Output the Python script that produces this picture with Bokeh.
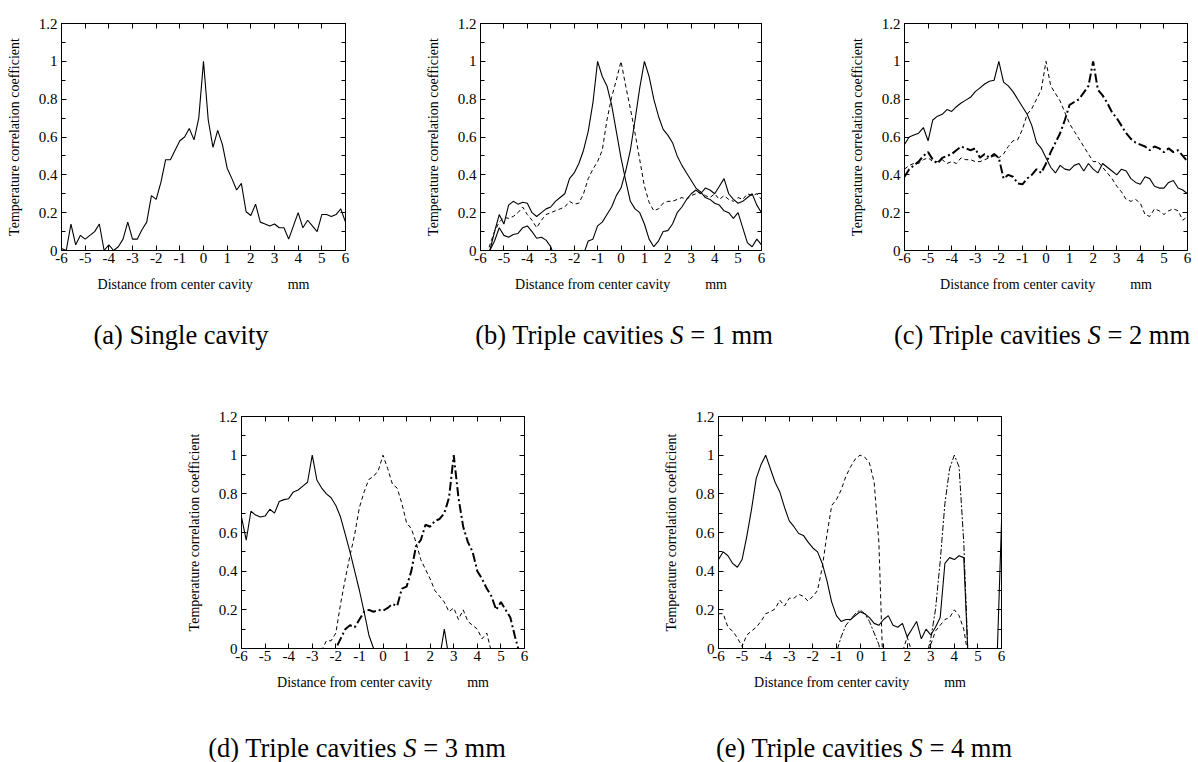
import numpy as np
from bokeh.plotting import figure
from bokeh.models import Range1d, FixedTicker, LinearAxis, Div, Spacer, CustomJSTickFormatter
from bokeh.layouts import row, column
from bokeh.embed import file_html
from bokeh.resources import INLINE

FONT = "Liberation Serif"

# ---------------- data ----------------
x_grid = np.round(np.linspace(-6, 6, 61), 1)   # sampling positions, mm
x_ticks = [-6, -5, -4, -3, -2, -1, 0, 1, 2, 3, 4, 5, 6]
x_tick_labels = {-6: "-6", -5: "-5", -4: "-4", -3: "-3", -2: "-2", -1: "-1", 0: "0",
                 1: "1", 2: "2", 3: "3", 4: "4", 5: "5", 6: "6"}
y_ticks = [0, 0.2, 0.4, 0.6, 0.8, 1, 1.2]
y_minor = [0.1, 0.3, 0.5, 0.7, 0.9, 1.1]
y_tick_labels = {0: "0", 0.2: "0.2", 0.4: "0.4", 0.6: "0.6", 0.8: "0.8", 1: "1", 1.2: "1.2"}

# (a) single cavity
a_single = [0.01, 0.0, 0.14, 0.03, 0.08, 0.06, 0.08, 0.10, 0.14, 0.0,
            0.03, 0.0, 0.02, 0.06, 0.15, 0.06, 0.06, 0.11, 0.15, 0.29,
            0.27, 0.36, 0.48, 0.48, 0.53, 0.58, 0.60, 0.645, 0.585, 0.70,
            1.0,
            0.69, 0.545, 0.635, 0.56, 0.435, 0.38, 0.32, 0.355, 0.205, 0.185,
            0.245, 0.15, 0.14, 0.13, 0.14, 0.12, 0.12, 0.06, 0.13, 0.20,
            0.12, 0.16, 0.13, 0.10, 0.19, 0.19, 0.18, 0.19, 0.22, 0.15]

# (b) S = 1 mm
b_left = [-0.25, -0.12, 0.0, 0.10, 0.19, 0.14, 0.24, 0.26, 0.245, 0.255,
          0.25, 0.20, 0.18, 0.20, 0.22, 0.23, 0.26, 0.28, 0.30, 0.38,
          0.41, 0.46, 0.53, 0.63, 0.78, 1.0, 0.92, 0.87, 0.77, 0.63,
          0.49,
          0.37, 0.26, 0.22, 0.20, 0.14, 0.06, 0.02, 0.05, 0.10, 0.105,
          0.14, 0.20, 0.23, 0.27, 0.30, 0.32, 0.30, 0.33, 0.32, 0.30,
          0.34, 0.38, 0.30, 0.27, 0.25, 0.26, 0.28, 0.30, 0.24, 0.20]
b_center = [-0.20, -0.05, 0.03, 0.10, 0.15, 0.175, 0.17, 0.18, 0.20, 0.23,
            0.19, 0.16, 0.12, 0.16, 0.19, 0.20, 0.21, 0.22, 0.23, 0.26,
            0.245, 0.25, 0.30, 0.38, 0.43, 0.47, 0.53, 0.69, 0.81, 0.90,
            1.0,
            0.87, 0.75, 0.62, 0.48, 0.34, 0.255, 0.21, 0.22, 0.25, 0.26,
            0.26, 0.27, 0.28, 0.27, 0.29, 0.30, 0.31, 0.29, 0.28, 0.30,
            0.27, 0.29, 0.27, 0.26, 0.28, 0.27, 0.30, 0.29, 0.30, 0.27]
b_right = [-0.20, -0.08, 0.0, 0.05, 0.12, 0.08, 0.07, 0.085, 0.09, 0.12,
           0.13, 0.10, 0.065, 0.07, 0.055, 0.02, -0.05, -0.10, -0.12, -0.12,
           -0.10, -0.08, -0.02, 0.05, 0.06, 0.13, 0.15, 0.19, 0.23, 0.29,
           0.33,
           0.42, 0.53, 0.69, 0.86, 1.0, 0.92, 0.80, 0.71, 0.64, 0.61,
           0.57, 0.50, 0.45, 0.41, 0.37, 0.33, 0.31, 0.28, 0.27, 0.25,
           0.24, 0.21, 0.20, 0.17, 0.20, 0.12, 0.04, 0.02, 0.06, 0.03]

# (c) S = 2 mm
c_left = [0.56, 0.60, 0.61, 0.62, 0.65, 0.58, 0.69, 0.71, 0.72, 0.745,
          0.735, 0.76, 0.78, 0.795, 0.81, 0.84, 0.86, 0.88, 0.895, 0.90,
          1.0, 0.89, 0.87, 0.84, 0.80, 0.76, 0.72, 0.66, 0.57, 0.54,
          0.49,
          0.44, 0.41, 0.45, 0.43, 0.425, 0.45, 0.46, 0.42, 0.46, 0.43,
          0.41, 0.46, 0.44, 0.42, 0.40, 0.43, 0.42, 0.38, 0.36, 0.35,
          0.39, 0.38, 0.34, 0.33, 0.33, 0.36, 0.37, 0.33, 0.32, 0.30]
c_center = [0.43, 0.45, 0.46, 0.46, 0.48, 0.49, 0.47, 0.47, 0.48, 0.46,
            0.47, 0.46, 0.49, 0.48, 0.48, 0.47, 0.47, 0.48, 0.49, 0.50,
            0.49, 0.51, 0.55, 0.58, 0.585, 0.64, 0.72, 0.75, 0.80, 0.85,
            1.0,
            0.87, 0.83, 0.79, 0.73, 0.67, 0.63, 0.59, 0.55, 0.51, 0.47,
            0.47, 0.44, 0.41, 0.38, 0.34, 0.31, 0.27, 0.26, 0.27, 0.25,
            0.19, 0.18, 0.22, 0.21, 0.19, 0.21, 0.22, 0.21, 0.16, 0.18]
c_right = [0.39, 0.43, 0.45, 0.47, 0.50, 0.52, 0.48, 0.46, 0.49, 0.50,
           0.51, 0.53, 0.55, 0.54, 0.53, 0.54, 0.49, 0.51, 0.49, 0.51,
           0.49, 0.38, 0.40, 0.39, 0.355, 0.35, 0.38, 0.40, 0.43, 0.41,
           0.46,
           0.52, 0.57, 0.62, 0.69, 0.77, 0.785, 0.80, 0.835, 0.87, 1.0,
           0.85, 0.82, 0.78, 0.73, 0.70, 0.66, 0.62, 0.59, 0.57, 0.56,
           0.55, 0.53, 0.55, 0.54, 0.52, 0.54, 0.52, 0.53, 0.50, 0.47]

# (d) S = 3 mm
d_left = [0.68, 0.56, 0.71, 0.69, 0.68, 0.685, 0.72, 0.70, 0.76, 0.77,
          0.775, 0.81, 0.82, 0.84, 0.86, 1.0, 0.87, 0.83, 0.80, 0.78,
          0.74, 0.68, 0.59, 0.50, 0.40, 0.30, 0.19, 0.07, 0.0, -0.05,
          -0.1,
          -0.1, -0.1, -0.1, -0.1, -0.1, -0.1, -0.1, -0.1, -0.1, -0.1,
          -0.1, -0.05, 0.10, -0.05, -0.1, -0.1, -0.1, -0.1, -0.1, -0.1,
          -0.1, -0.1, -0.1, -0.1, -0.1, -0.1, -0.1, -0.1, -0.1, -0.1]
d_center = [-0.05, -0.05, -0.05, -0.05, -0.05, -0.05, -0.05, -0.05, -0.05, -0.05,
            -0.05, -0.05, -0.05, -0.05, -0.05, -0.05, -0.05, -0.01, 0.04, 0.04,
            0.08, 0.23, 0.36, 0.48, 0.59, 0.73, 0.81, 0.875, 0.89, 0.92,
            1.0,
            0.93, 0.85, 0.83, 0.75, 0.65, 0.62, 0.55, 0.46, 0.41, 0.36,
            0.30, 0.27, 0.24, 0.19, 0.21, 0.15, 0.20, 0.14, 0.12, 0.10,
            0.05, 0.08, -0.02, -0.05, -0.05, -0.05, -0.05, -0.05, -0.05, -0.05]
d_right = [-0.05, -0.05, -0.05, -0.05, -0.05, -0.05, -0.05, -0.05, -0.05, -0.05,
           -0.05, -0.05, -0.05, -0.05, -0.05, -0.05, -0.05, -0.05, -0.05, -0.02,
           0.0, 0.05, 0.10, 0.12, 0.11, 0.15, 0.19, 0.20, 0.19, 0.20,
           0.195,
           0.21, 0.23, 0.22, 0.31, 0.32, 0.40, 0.53, 0.56, 0.64, 0.63,
           0.66, 0.67, 0.70, 0.78, 1.0, 0.78, 0.63, 0.55, 0.50, 0.40,
           0.36, 0.31, 0.27, 0.20, 0.24, 0.20, 0.16, 0.06, -0.03, -0.05]

# (e) S = 4 mm
e_left = [0.46, 0.50, 0.48, 0.44, 0.42, 0.46, 0.58, 0.72, 0.88, 0.95,
          1.0, 0.93, 0.86, 0.81, 0.73, 0.66, 0.63, 0.595, 0.585, 0.55,
          0.52, 0.50, 0.44, 0.35, 0.24, 0.17, 0.14, 0.15, 0.15, 0.17,
          0.19,
          0.18, 0.16, 0.13, 0.12, 0.15, 0.17, 0.12, 0.11, 0.13, 0.06,
          0.10, 0.14, 0.05, 0.10, 0.07, 0.11, 0.16, 0.44, 0.47, 0.46,
          0.48, 0.47, -0.10, -0.10, -0.10, -0.10, -0.10, -0.10, -0.10, 0.65]
e_center = [0.18, 0.18, 0.11, 0.09, 0.055, 0.01, 0.07, 0.09, 0.11, 0.14,
            0.18, 0.19, 0.205, 0.25, 0.22, 0.26, 0.26, 0.28, 0.27, 0.245,
            0.27, 0.30, 0.42, 0.59, 0.74, 0.77, 0.82, 0.89, 0.94, 0.98,
            1.0,
            0.99, 0.96, 0.86, 0.55, -0.2, -0.1, -0.1, -0.1, -0.02, 0.06,
            -0.02, -0.1, -0.1, -0.05, 0.02, 0.09, 0.12, 0.15, 0.16, 0.20,
            0.17, 0.10, -0.05, -0.1, -0.1, -0.1, -0.1, -0.1, -0.1, -0.1]
e_right = [-0.1, -0.1, -0.1, -0.1, -0.1, -0.1, -0.1, -0.1, -0.1, -0.1,
           -0.1, -0.1, -0.1, -0.1, -0.1, -0.1, -0.1, -0.1, -0.1, -0.1,
           -0.1, -0.1, -0.1, -0.1, -0.1, -0.02, 0.06, 0.12, 0.15, 0.18,
           0.20,
           0.18, 0.14, 0.08, 0.02, -0.1, -0.1, -0.1, -0.1, -0.1, -0.1,
           -0.1, -0.1, -0.1, -0.05, 0.05, 0.20, 0.45, 0.75, 0.93, 1.0,
           0.94, 0.55, -0.1, -0.1, -0.1, -0.1, -0.1, -0.1, -0.1, -0.1]

x_label = "Distance from center cavity" + "\u00a0" * 10 + "mm"
y_label = "Temperature correlation coefficient"

SOLID = dict(line_color="black", line_width=1.1)
DASHED = dict(line_color="black", line_width=1.0, line_dash="4 3")
DASHDOT_THICK = dict(line_color="black", line_width=2.0, line_dash="9 3 2 3")
DASHDOT_THIN = dict(line_color="black", line_width=1.0, line_dash="6 2 2 2")


def blank_axis(ax):
    ax.formatter = CustomJSTickFormatter(code="return ''")
    ax.major_label_text_font_size = "0px"
    ax.major_label_standoff = 0
    ax.axis_line_color = "black"
    ax.major_tick_line_color = "black"
    ax.minor_tick_line_color = "black"
    ax.major_tick_in = 5
    ax.major_tick_out = 0
    ax.minor_tick_in = 4
    ax.minor_tick_out = 0


def make_panel(width, height, left, right, top, bottom, curves):
    p = figure(width=width, height=height, x_range=Range1d(-6, 6), y_range=Range1d(0, 1.2),
               output_backend="svg", toolbar_location=None,
               min_border_left=left, min_border_right=right,
               min_border_top=top, min_border_bottom=bottom)
    p.grid.visible = False
    p.outline_line_color = "black"
    p.background_fill_color = "white"
    p.border_fill_color = "white"

    for ax in (p.xaxis[0], p.yaxis[0]):
        ax.axis_line_color = "black"
        ax.major_tick_line_color = "black"
        ax.minor_tick_line_color = "black"
        ax.major_tick_in = 5
        ax.major_tick_out = 0
        ax.minor_tick_in = 4
        ax.minor_tick_out = 0
        ax.major_label_text_font = FONT
        ax.major_label_text_font_size = "15px"
        ax.major_label_text_color = "black"
        ax.axis_label_text_font = FONT
        ax.axis_label_text_font_size = "14px"
        ax.axis_label_text_font_style = "normal"
        ax.axis_label_text_color = "black"

    p.xaxis[0].ticker = FixedTicker(ticks=x_ticks, minor_ticks=[])
    p.xaxis[0].major_label_overrides = x_tick_labels
    p.xaxis[0].axis_label = x_label
    p.xaxis[0].major_label_standoff = 2
    p.xaxis[0].axis_label_standoff = 11

    p.yaxis[0].ticker = FixedTicker(ticks=y_ticks, minor_ticks=y_minor)
    p.yaxis[0].major_label_overrides = y_tick_labels
    p.yaxis[0].axis_label = y_label
    p.yaxis[0].major_label_standoff = 4
    p.yaxis[0].axis_label_standoff = 14

    top_ax = LinearAxis(ticker=FixedTicker(ticks=x_ticks, minor_ticks=[]))
    blank_axis(top_ax)
    p.add_layout(top_ax, "above")
    right_ax = LinearAxis(ticker=FixedTicker(ticks=y_ticks, minor_ticks=y_minor))
    blank_axis(right_ax)
    p.add_layout(right_ax, "right")

    for ys, style in curves:
        p.line(x_grid, ys, **style)
    return p


fa = make_panel(420, 310, 61, 75, 14, 60, [(a_single, SOLID)])
fb = make_panel(422, 310, 60, 81, 20, 54, [(b_left, SOLID), (b_right, SOLID), (b_center, DASHED)])
fc = make_panel(356, 310, 62, 11, 23, 51, [(c_left, SOLID), (c_center, DASHED), (c_right, DASHDOT_THICK)])
fd = make_panel(478, 345, 61, 134, 53, 57, [(d_left, SOLID), (d_center, DASHED), (d_right, DASHDOT_THICK)])
fe = make_panel(540, 345, 60, 197, 56, 53, [(e_left, SOLID), (e_center, DASHED), (e_right, DASHDOT_THIN)])

CAP_STYLE = {"font-family": FONT, "font-size": "26.5px", "text-align": "center",
             "white-space": "nowrap", "color": "black"}


def caption(text, width, height, pad):
    return Div(text='<div style="padding-top:%dpx">%s</div>' % (pad, text),
               width=width, height=height, margin=0, styles=CAP_STYLE)


top_caps = row(caption("(a) Single cavity", 362, 50, 7),
               caption("(b) Triple cavities <i>S</i> = 1 mm", 524, 50, 7),
               caption("(c) Triple cavities <i>S</i> = 2 mm", 312, 50, 7))
bottom_plots = row(Spacer(width=180, height=345, margin=0), fd, fe)
bottom_caps = row(Spacer(width=50, height=57, margin=0),
                  caption("(d) Triple cavities <i>S</i> = 3 mm", 614, 57, 25),
                  caption("(e) Triple cavities <i>S</i> = 4 mm", 400, 57, 25))

layout = column(row(fa, fb, fc), top_caps, bottom_plots, bottom_caps)

open("out.html", "w").write(file_html(layout, INLINE))
